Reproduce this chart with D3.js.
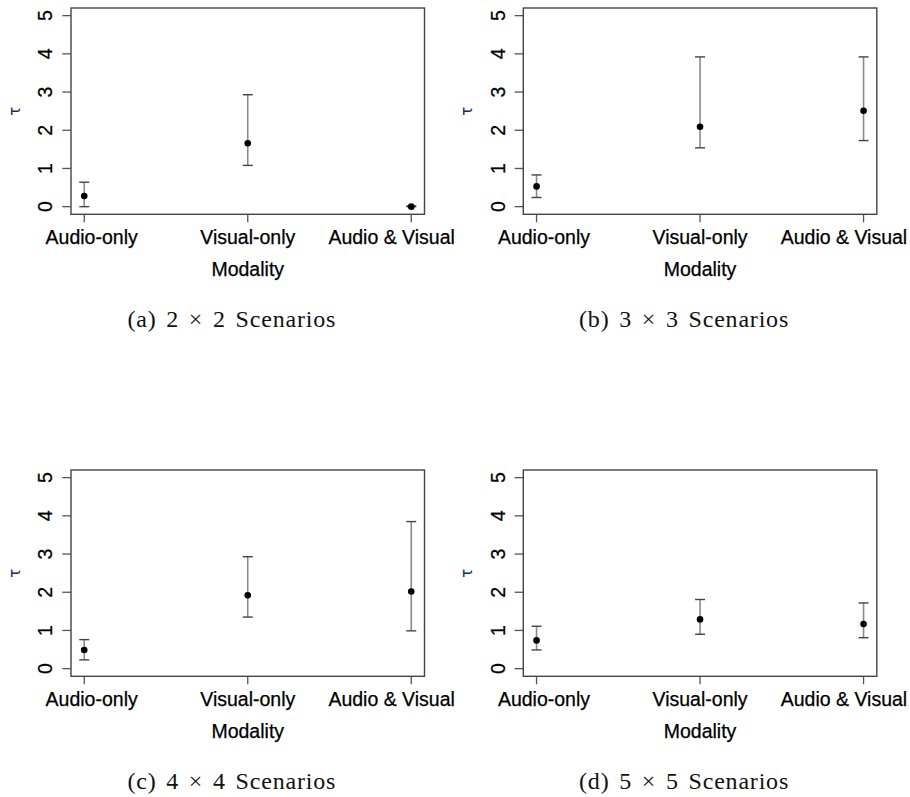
<html>

<head>
    <meta charset="utf-8">
    <style>
        body { margin: 0; background: #fff; }
    </style>
</head>

<body>
    <svg id="container" height="797" width="910"></svg>
</body>
<script src="https://cdn.jsdelivr.net/npm/d3@7"></script>
<script>
    // categories and tick labels
    let modalities = ["Audio-only", "Visual-only", "Audio & Visual"]
    let yTicks = [0, 1, 2, 3, 4, 5]
    let captions = ["(a) 2 \u00d7 2 Scenarios", "(b) 3 \u00d7 3 Scenarios", "(c) 4 \u00d7 4 Scenarios", "(d) 5 \u00d7 5 Scenarios"]

    // estimated tau with lower / upper interval, one array per scenario
    let tau2 = [0.28, 1.66, 0.00]
    let low2 = [0.00, 1.08, 0.00]
    let high2 = [0.64, 2.93, 0.02]

    let tau3 = [0.53, 2.09, 2.51]
    let low3 = [0.24, 1.54, 1.73]
    let high3 = [0.83, 3.92, 3.92]

    let tau4 = [0.49, 1.92, 2.02]
    let low4 = [0.23, 1.35, 0.99]
    let high4 = [0.76, 2.93, 3.85]

    let tau5 = [0.74, 1.29, 1.17]
    let low5 = [0.49, 0.90, 0.81]
    let high5 = [1.11, 1.81, 1.72]

    let svg = d3.select("#container")

    // plot box of each panel (left, top)
    let panels = [
        { x: 71, y: 8, tau: tau2, low: low2, high: high2, caption: captions[0] },
        { x: 523.3, y: 8, tau: tau3, low: low3, high: high3, caption: captions[1] },
        { x: 71, y: 470, tau: tau4, low: low4, high: high4, caption: captions[2] },
        { x: 523.3, y: 470, tau: tau5, low: low5, high: high5, caption: captions[3] }
    ]

    let boxW = 353.5
    let boxH = 206.3
    let labelShift = [7.4, 0, -19.6] // R labels sit a bit inward at the edges
    let sans = "Liberation Sans, Arial, sans-serif"

    panels.forEach(p => drawPanel(p))

    function drawPanel(p) {
        let g = svg.append("g").attr("transform", `translate(${p.x},${p.y})`)

        // R style: 4% padding round the data range
        let x = d3.scalePoint()
            .domain(modalities)
            .range([0, boxW])
            .padding(0.081)
        let y = d3.scaleLinear()
            .domain([-0.2, 5.2])
            .range([boxH, 0])

        // y axis: ticks to the left, labels rotated
        let yAxis = g.append("g")
        yAxis.selectAll("line")
            .data(yTicks)
            .enter().append("line")
            .attr("x1", -8.7).attr("x2", 0)
            .attr("y1", d => y(d)).attr("y2", d => y(d))
            .attr("stroke", "#555").attr("stroke-width", 1.3)
        yAxis.selectAll("text")
            .data(yTicks)
            .enter().append("text")
            .attr("transform", d => `translate(-18.6,${y(d)}) rotate(-90)`)
            .attr("text-anchor", "middle")
            .style("font-family", sans)
            .style("font-size", "19.5px")
            .attr("fill", "#000")
            .attr("stroke", "#000").attr("stroke-width", 0.25)
            .text(d => d)

        // x axis ticks below the box
        let xAxis = g.append("g")
        xAxis.selectAll("line")
            .data(modalities)
            .enter().append("line")
            .attr("x1", d => x(d)).attr("x2", d => x(d))
            .attr("y1", boxH).attr("y2", boxH + 8)
            .attr("stroke", "#555").attr("stroke-width", 1.3)
        xAxis.selectAll("text")
            .data(modalities)
            .enter().append("text")
            .attr("x", (d, i) => x(d) + labelShift[i])
            .attr("y", boxH + 30)
            .attr("text-anchor", "middle")
            .style("font-family", sans)
            .style("font-size", "19.5px")
            .attr("fill", "#000")
            .attr("stroke", "#000").attr("stroke-width", 0.25)
            .text(d => d)

        // axis titles
        g.append("text")
            .attr("x", x(modalities[1]))
            .attr("y", boxH + 62)
            .attr("text-anchor", "middle")
            .style("font-family", sans)
            .style("font-size", "19.5px")
            .attr("fill", "#000")
            .attr("stroke", "#000").attr("stroke-width", 0.25)
            .text("Modality")
        g.append("text")
            .attr("transform", `translate(${-51},${boxH / 2}) rotate(-90)`)
            .attr("text-anchor", "middle")
            .style("font-family", "DejaVu Sans, sans-serif")
            .style("font-size", "15px")
            .attr("fill", "#1d2b4d")
            .text("\u03c4")

        // error bars
        let bars = g.selectAll("g.bar")
            .data(modalities)
            .enter().append("g").attr("class", "bar")
        bars.append("line")
            .attr("x1", d => x(d)).attr("x2", d => x(d))
            .attr("y1", (d, i) => y(p.low[i])).attr("y2", (d, i) => y(p.high[i]))
            .attr("stroke", "#8a8a8a").attr("stroke-width", 1.6)
        bars.append("line")
            .attr("x1", d => x(d) - 5).attr("x2", d => x(d) + 5)
            .attr("y1", (d, i) => y(p.high[i])).attr("y2", (d, i) => y(p.high[i]))
            .attr("stroke", "#444").attr("stroke-width", 1.4)
        bars.append("line")
            .attr("x1", d => x(d) - 5).attr("x2", d => x(d) + 5)
            .attr("y1", (d, i) => y(p.low[i])).attr("y2", (d, i) => y(p.low[i]))
            .attr("stroke", "#444").attr("stroke-width", 1.4)
        bars.append("circle")
            .attr("cx", d => x(d))
            .attr("cy", (d, i) => y(p.tau[i]))
            .attr("r", 3.3)
            .attr("fill", "#000")

        // plot box
        g.append("rect")
            .attr("width", boxW).attr("height", boxH)
            .attr("fill", "none")
            .attr("stroke", "#444").attr("stroke-width", 1.4)

        // sub caption
        g.append("text")
            .attr("x", x(modalities[1]) - 16)
            .attr("y", boxH + 113)
            .attr("text-anchor", "middle")
            .style("font-family", "Liberation Serif, Times New Roman, serif")
            .style("font-size", "24px")
            .style("word-spacing", "3px")
            .style("letter-spacing", "0.8px")
            .attr("fill", "#111")
            .text(p.caption)
    }
</script>

</html>
